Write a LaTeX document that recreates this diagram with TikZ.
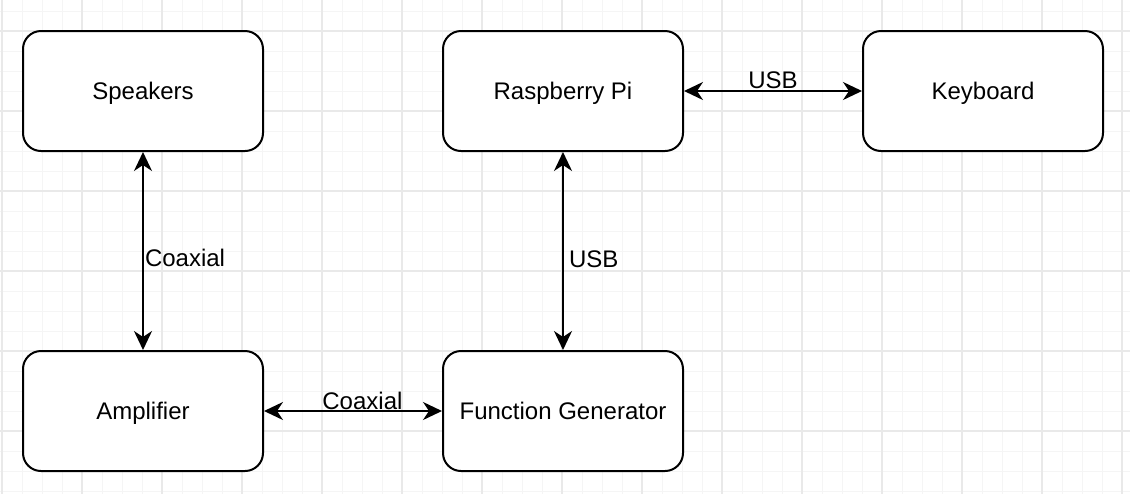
\documentclass[tikz,border=0pt]{standalone}
\usepackage{fontspec}
\setmainfont{Liberation Sans}
\usetikzlibrary{arrows.meta,positioning}
\definecolor{minorgrid}{HTML}{F5F5F5}
\definecolor{majorgrid}{HTML}{E9E9E9}

\begin{document}
\begin{tikzpicture}[x=0.5pt,y=-0.5pt,node distance=160pt and 210pt,on grid,
   block/.style={draw,line width=1pt,rounded corners=9pt,minimum width=120pt,minimum height=60pt,text depth=0pt,font=\fontsize{12}{14}\selectfont},
   lbl/.style={font=\fontsize{12}{14}\selectfont,inner sep=0pt},
   link/.style={line width=1pt,{Stealth[length=9.5pt,width=9pt,inset=3pt]}-{Stealth[length=9.5pt,width=9pt,inset=3pt]}}]
   \useasboundingbox (0,0) rectangle (1130,494);
   % grid
   \foreach \x in {2,22,...,1122} \draw[minorgrid,line width=0.5pt] (\x,0) -- (\x,494);
   \foreach \y in {11,31,...,491} \draw[minorgrid,line width=0.5pt] (0,\y) -- (1130,\y);
   \foreach \x in {2,82,...,1122} \draw[majorgrid,line width=0.6pt] (\x,0) -- (\x,494);
   \foreach \y in {31,111,...,491} \draw[majorgrid,line width=0.6pt] (0,\y) -- (1130,\y);

   \node[block,fill=white] (speakers) at (143,91) {Speakers};
   \node[block,fill=white] (rpi) [right=of speakers] {Raspberry Pi};
   \node[block,fill=white] (keyboard) [right=of rpi] {Keyboard};
   \node[block,fill=white] (amp) [below=of speakers] {Amplifier};
   \node[block,fill=white] (fgen) [below=of rpi] {Function Generator};

   \path[link]
    (rpi) edge node[lbl,pos=0.5,anchor=base,yshift=1.5pt] {USB} (keyboard)
    (speakers) edge node[lbl,pos=0.58,anchor=base west,xshift=0.5pt] {Coaxial} (amp)
    (rpi) edge node[lbl,pos=0.585,anchor=base west,xshift=2.5pt] {USB} (fgen)
    (amp) edge node[lbl,pos=0.553,anchor=base,yshift=1pt] {Coaxial} (fgen);
\end{tikzpicture}
\end{document}
